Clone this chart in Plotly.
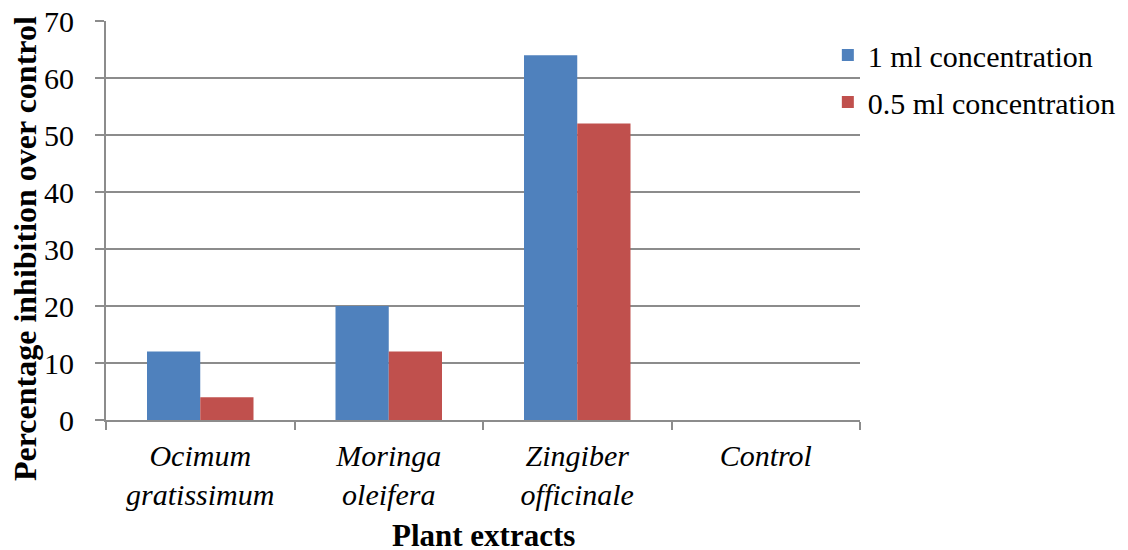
import plotly.graph_objects as go

categories = ["<i>Ocimum<br>gratissimum</i>", "<i>Moringa<br>oleifera</i>",
              "<i>Zingiber<br>officinale</i>", "<i>Control</i>"]
series_1ml = [12, 20, 64, 0]
series_05ml = [4, 12, 52, 0]
series_names = ["1 ml concentration", "0.5 ml concentration"]
y_ticks = [0, 10, 20, 30, 40, 50, 60, 70]

FONT = "Times New Roman"
GRID = "#8c8c8c"

fig = go.Figure()
fig.add_trace(go.Bar(x=categories, y=series_1ml, name=series_names[0],
                     marker=dict(color="#4F81BD", line=dict(width=0)),
                     legendgroup="a"))
fig.add_trace(go.Bar(x=categories, y=series_05ml, name=series_names[1],
                     marker=dict(color="#C0504D", line=dict(width=0)),
                     legendgroup="b"))

fig.update_layout(
    width=1120, height=542,
    margin=dict(l=98, r=268, t=13, b=130, autoexpand=False),
    paper_bgcolor="white", plot_bgcolor="white",
    font=dict(family=FONT, size=30, color="black"),
    barmode="group", bargap=0.435, bargroupgap=0,
    legend=dict(xref="container", yref="container", x=0.732, y=0.9613,
                xanchor="left", yanchor="top",
                font=dict(family=FONT, size=30, color="black"), tracegroupgap=5,
                bgcolor="rgba(0,0,0,0)"),
    xaxis=dict(
        automargin=False,
        showline=True, linecolor=GRID, linewidth=2,
        ticks="outside", tickson="boundaries", ticklen=8, tickcolor=GRID, tickwidth=2,
        ticklabelstandoff=8, ticklabeloverflow="allow",
        tickfont=dict(family=FONT, size=30, color="black"),
    ),
    yaxis=dict(
        automargin=False,
        range=[0, 70], tickvals=y_ticks,
        showline=True, linecolor=GRID, linewidth=2,
        showgrid=True, gridcolor=GRID, gridwidth=2,
        ticks="outside", ticklen=9, tickcolor=GRID, tickwidth=2,
        ticklabelstandoff=15, ticklabeloverflow="allow",
        tickfont=dict(family=FONT, size=30, color="black"),
        zeroline=False,
    ),
)

fig.add_annotation(text="<b>Percentage inhibition over control</b>", textangle=-90,
                   xref="paper", yref="paper", x=-0.1074, y=0.4286,
                   xanchor="center", yanchor="middle", showarrow=False,
                   font=dict(family=FONT, size=32, color="black"))
fig.add_annotation(text="<b>Plant extracts</b>",
                   xref="paper", yref="paper", x=0.5, y=-0.29,
                   xanchor="center", yanchor="middle", showarrow=False,
                   font=dict(family=FONT, size=31, color="black"))

fig.write_html("out.html")
